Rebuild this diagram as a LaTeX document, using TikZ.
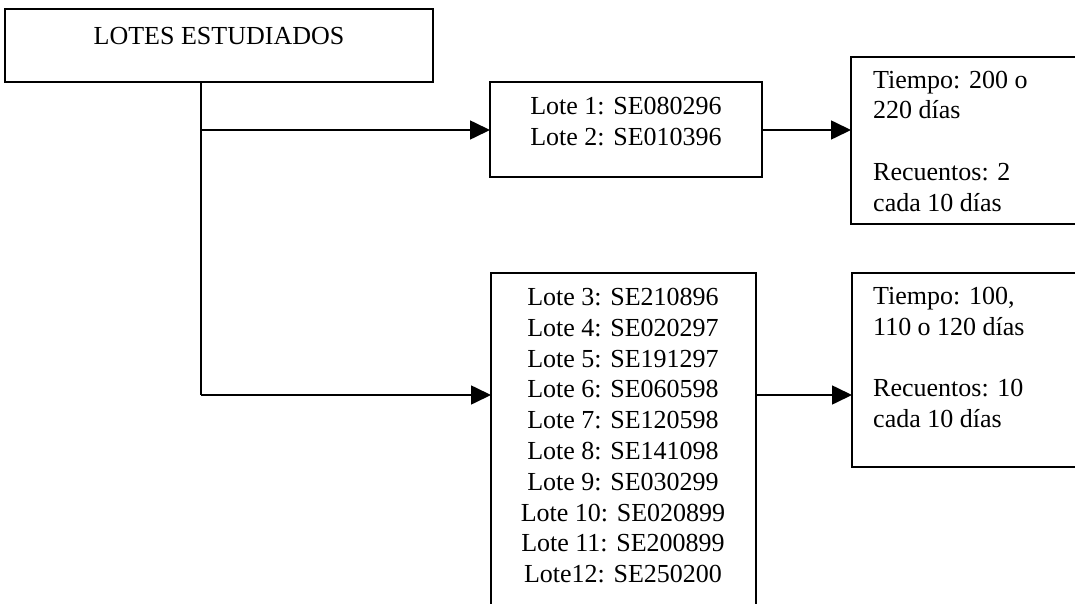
\documentclass[tikz,border=0pt]{standalone}
\usepackage{fontspec}
\setmainfont{Liberation Serif}
\usetikzlibrary{arrows.meta}
\begin{document}
\begin{tikzpicture}[x=1pt,y=-1pt,
  framebox/.style={draw, rectangle, line width=1.6pt, inner sep=0pt, outer sep=0pt, anchor=north west},
  lbl/.style={inner sep=0pt, font=\fontsize{26}{30.8}\selectfont, anchor=base},
  lblleft/.style={lbl, align=left, anchor=base west},
  lblmid/.style={lbl, align=center},
  link/.style={line width=1.6pt},
  arrowlink/.style={link, -{Triangle[length=20pt,width=19pt]}}]
  \useasboundingbox (0,0) rectangle (1075,604);
  \fill[white] (0,0) rectangle (1075,604);
  \clip (0,0) rectangle (1075,604);

  % boxes
  \node[framebox, minimum width=428pt, minimum height=73pt] (lotes) at (5,9) {};
  \node[framebox, minimum width=272pt, minimum height=95pt] (grupoA) at (490,82) {};
  \node[framebox, minimum width=240pt, minimum height=167pt] (tiempoA) at (851,57) {};
  \node[framebox, minimum width=265pt, minimum height=360pt] (grupoB) at (491,273) {};
  \node[framebox, minimum width=240pt, minimum height=194pt] (tiempoB) at (852,273) {};

  % texts (multi-line nodes are placed by the baseline of their last line)
  \node[lbl] (tLotes) at (219,45) {LOTES ESTUDIADOS};
  \node[lblmid] (tGrupoA) at (626,145.8) {Lote 1: SE080296\\Lote 2: SE010396};
  \node[lblleft] (tTiempoA) at (873,211.2) {Tiempo: 200 o\\220 días\\[30.8pt]Recuentos: 2\\cada 10 días};
  \node[lblmid] (tGrupoB) at (623,582.7) {Lote 3: SE210896\\Lote 4: SE020297\\Lote 5: SE191297\\Lote 6: SE060598\\Lote 7: SE120598\\Lote 8: SE141098\\Lote 9: SE030299\\Lote 10: SE020899\\Lote 11: SE200899\\Lote12: SE250200};
  \node[lblleft] (tTiempoB) at (873,427.5) {Tiempo: 100,\\110 o 120 días\\[30.8pt]Recuentos: 10\\cada 10 días};

  % connectors
  \coordinate (ramaA) at (201,130);
  \coordinate (ramaB) at (201,395);
  \draw[link] (lotes.south -| ramaA) -- (ramaB);
  \draw[arrowlink] (ramaA) -- (ramaA -| grupoA.west);
  \draw[arrowlink] (ramaB) -- (ramaB -| grupoB.west);
  \draw[arrowlink] (grupoA.east |- ramaA) -- (ramaA -| tiempoA.west);
  \draw[arrowlink] (grupoB.east |- ramaB) -- (ramaB -| tiempoB.west);
\end{tikzpicture}
\end{document}
